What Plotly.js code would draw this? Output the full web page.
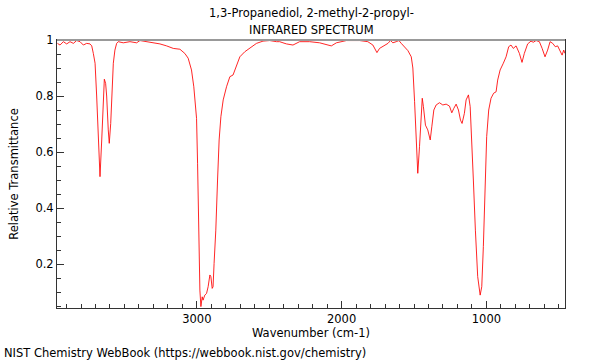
<!DOCTYPE html>
<html>
<head>
<meta charset="utf-8">
<script src="https://cdn.plot.ly/plotly-3.0.1.min.js"></script>
<style>html,body{margin:0;padding:0;background:#fff;}#chart{width:600px;height:360px;}</style>
</head>
<body>
<div id="chart"></div>
<script>
const titleLine1 = "1,3-Propanediol, 2-methyl-2-propyl-";
const titleLine2 = "INFRARED SPECTRUM";
const xLabel = "Wavenumber (cm-1)";
const yLabel = "Relative Transmittance";
const sourceNote = "NIST Chemistry WebBook (https://webbook.nist.gov/chemistry)";
const xTickVals = [3000, 2000, 1000];
const yTickVals = [0.2, 0.4, 0.6, 0.8, 1];
const yTickText = ["0.2", "0.4", "0.6", "0.8", "1"];

const wavenumber = [3963,3945,3922,3899,3876,3853,3830,3807,3784,3761,3738,3726,3715,3703,3692,3681,3669,3657,3646,3639,3630,3623,3612,3605,3595,3588,3577,3566,3554,3543,3508,3462,3416,3393,3347,3301,3255,3209,3163,3117,3083,3060,3037,3021,3009,3002,2995,2988,2979,2972,2963,2957,2945,2933,2922,2910,2903,2894,2888,2881,2869,2857,2846,2834,2818,2795,2772,2750,2726,2703,2669,2634,2588,2543,2497,2450,2428,2405,2381,2336,2290,2221,2152,2094,2071,2036,1967,1876,1819,1784,1756,1738,1703,1680,1662,1646,1623,1604,1588,1565,1542,1519,1508,1496,1485,1474,1462,1450,1443,1435,1421,1405,1388,1377,1363,1347,1324,1301,1278,1255,1239,1225,1209,1193,1179,1168,1152,1140,1124,1112,1101,1090,1076,1060,1043,1032,1021,1009,998,984,968,950,933,922,905,883,864,846,830,814,795,772,754,738,715,692,676,657,634,615,595,577,560,542,524,508,491,477,466,457];
const transmittance = [0.988,0.982,0.994,0.986,0.994,0.988,0.998,0.994,0.982,0.988,0.986,0.979,0.952,0.917,0.80,0.643,0.512,0.643,0.80,0.86,0.845,0.80,0.679,0.631,0.702,0.80,0.917,0.964,0.988,0.994,0.99,0.994,0.99,0.998,0.994,0.99,0.986,0.979,0.970,0.967,0.952,0.935,0.893,0.833,0.774,0.72,0.56,0.321,0.107,0.048,0.083,0.071,0.089,0.095,0.119,0.161,0.155,0.113,0.119,0.202,0.321,0.50,0.643,0.726,0.786,0.833,0.869,0.875,0.905,0.94,0.958,0.970,0.988,0.996,0.998,0.994,0.994,0.99,0.986,0.982,0.994,0.994,0.99,0.982,0.979,0.99,0.998,0.998,0.994,0.982,0.955,0.970,0.982,0.988,0.998,0.99,0.994,0.998,0.988,0.976,0.962,0.94,0.9,0.78,0.619,0.524,0.619,0.738,0.792,0.762,0.696,0.679,0.643,0.69,0.75,0.768,0.776,0.768,0.771,0.764,0.74,0.756,0.771,0.75,0.714,0.702,0.738,0.786,0.804,0.762,0.655,0.50,0.321,0.155,0.089,0.119,0.262,0.50,0.655,0.75,0.792,0.81,0.815,0.857,0.893,0.917,0.94,0.976,0.982,0.970,0.979,0.952,0.920,0.952,0.986,0.996,0.992,0.998,0.994,0.970,0.94,0.964,0.994,0.988,0.976,0.979,0.958,0.946,0.964,0.952];

const fontFam = "DejaVu Sans, sans-serif";
const fs = 11.5;
const trace = {
  x: wavenumber, y: transmittance, type: "scatter", mode: "lines",
  line: {color: "rgba(255,0,0,0.85)", width: 1}, hoverinfo: "x+y", showlegend: false
};
const layout = {
  width: 600, height: 360,
  margin: {l: 57, r: 35, t: 40, b: 52},
  paper_bgcolor: "#fff", plot_bgcolor: "#fff",
  font: {family: fontFam, size: fs, color: "#000"},
  xaxis: {
    range: [3966, 457], tickvals: xTickVals, ticktext: xTickVals.map(String),
    ticks: "inside", ticklen: 7, tickcolor: "#333", showgrid: false, zeroline: false,
    showline: true, linecolor: "#333", linewidth: 1, mirror: true,
    minor: {dtick: 100, tick0: 0, ticks: "inside", ticklen: 4, tickcolor: "#333", showgrid: false},
    title: {text: xLabel, standoff: 4, font: {family: fontFam, size: fs}}
  },
  yaxis: {
    range: [0.043, 1.0], tickvals: yTickVals, ticktext: yTickText,
    ticks: "inside", ticklen: 7, tickcolor: "#333", showgrid: false, zeroline: false,
    showline: true, linecolor: "#333", linewidth: 1, mirror: true,
    minor: {dtick: 0.05, tick0: 0, ticks: "inside", ticklen: 4, tickcolor: "#333", showgrid: false},
    title: {text: yLabel, standoff: 14, font: {family: fontFam, size: fs}}
  },
  shapes: [{type: "line", xref: "paper", yref: "paper", x0: 0, x1: 1, y0: 1, y1: 1, line: {color: "#999", width: 2}}],
  annotations: [
    {text: titleLine1, xref: "paper", yref: "paper", x: 0.5, y: 1, yshift: 27, xanchor: "center", yanchor: "middle", showarrow: false, font: {family: fontFam, size: fs, color: "#000"}},
    {text: titleLine2, xref: "paper", yref: "paper", x: 0.5, y: 1, yshift: 10, xanchor: "center", yanchor: "middle", showarrow: false, font: {family: fontFam, size: fs, color: "#000"}},
    {text: sourceNote, xref: "paper", yref: "paper", x: 0, y: 0, xshift: -55, yshift: -45, xanchor: "left", yanchor: "middle", showarrow: false, font: {family: fontFam, size: fs, color: "#000"}}
  ]
};
Plotly.newPlot("chart", [trace], layout, {displayModeBar: false, staticPlot: true});
</script>
</body>
</html>
